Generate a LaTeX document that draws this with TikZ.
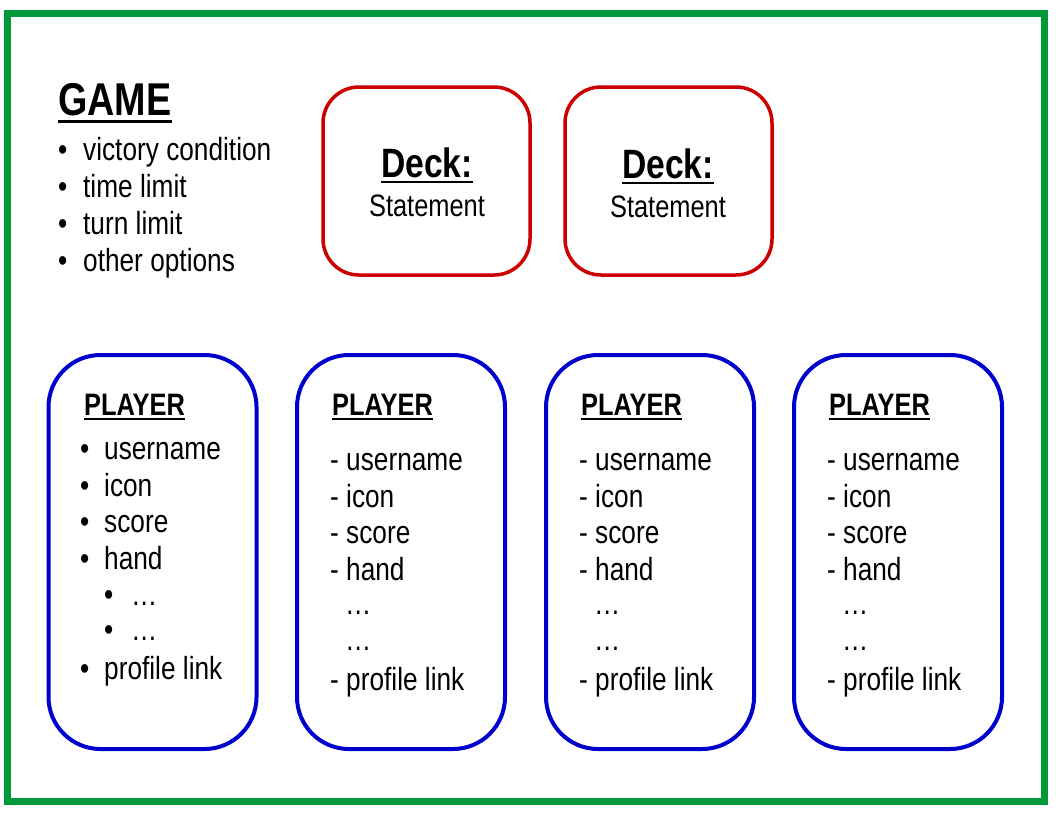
\documentclass[tikz,border=0pt]{standalone}
\usepackage{fontspec}
\setmainfont{Liberation Sans}[FakeStretch=0.82]
\definecolor{framegreen}{RGB}{0,153,57}
\definecolor{deckred}{RGB}{204,0,0}
\definecolor{playerblue}{RGB}{0,0,204}
\tikzset{
  txt/.style={inner sep=0pt, anchor=base west, font=\fontsize{32}{37}\selectfont},
  deckbox/.style={draw=deckred, line width=3.5pt, rounded corners=36pt, minimum width=207pt, minimum height=188pt},
  playerbox/.style={draw=playerblue, line width=4pt, rounded corners=52pt, minimum width=208pt, minimum height=394pt},
  uline/.style={line width=2.6pt}
}
\begin{document}
\begin{tikzpicture}[x=1pt,y=-1pt]
\useasboundingbox (0,0) rectangle (1056,816);
\fill[white] (0,0) rectangle (1056,816);
\draw[framegreen, line width=7pt] (7,13.5) rectangle (1044,801);

% game options
\node[txt, font=\fontsize{46}{51}\selectfont\bfseries] (game) at (58,115) {GAME};
\draw[uline, line width=3pt] ([yshift=-6pt]game.base west) -- ([yshift=-6pt]game.base east);
\node[txt] (victory) at (58,160) {\makebox[25pt][l]{•}victory condition};
\node[txt] (time) at (58,197) {\makebox[25pt][l]{•}time limit};
\node[txt] (turn) at (58,234) {\makebox[25pt][l]{•}turn limit};
\node[txt] (other) at (58,271) {\makebox[25pt][l]{•}other options};

% decks
\node[deckbox] (deckA) at (426.5,181) {};
\node[deckbox] (deckB) at (668.5,181) {};
\node[txt, anchor=base, font=\fontsize{41}{46}\selectfont\bfseries] (deckAtitle) at (427,177) {Deck:};
\draw[uline] ([yshift=-5pt]deckAtitle.base west) -- ([yshift=-5pt]deckAtitle.base east);
\node[txt, anchor=base, font=\fontsize{31}{36}\selectfont] (deckAtext) at (427,216) {Statement};
\node[txt, anchor=base, font=\fontsize{41}{46}\selectfont\bfseries] (deckBtitle) at (668,178) {Deck:};
\draw[uline] ([yshift=-5pt]deckBtitle.base west) -- ([yshift=-5pt]deckBtitle.base east);
\node[txt, anchor=base, font=\fontsize{31}{36}\selectfont] (deckBtext) at (668,217) {Statement};

% first player, bullet list
\node[playerbox] (playerA) at (152.5,552) {};
\node[txt, font=\fontsize{31}{36}\selectfont\bfseries] (titleA) at (84,415) {PLAYER};
\draw[uline] ([yshift=-4pt]titleA.base west) -- ([yshift=-4pt]titleA.base east);
\node[txt] (userA) at (80,459) {\makebox[24pt][l]{•}username};
\node[txt] (iconA) at (80,496) {\makebox[24pt][l]{•}icon};
\node[txt] (scoreA) at (80,532) {\makebox[24pt][l]{•}score};
\node[txt] (handA) at (80,569) {\makebox[24pt][l]{•}hand};
\node[txt] (cardAa) at (104,605) {\makebox[27pt][l]{•}…};
\node[txt] (cardAb) at (104,640) {\makebox[27pt][l]{•}…};
\node[txt] (linkA) at (80,679) {\makebox[24pt][l]{•}profile link};

% other players, dash list
\foreach \bx/\nm in {297/B,546/C,794/D}{
  \node[playerbox] (player\nm) at (\bx+104,552) {};
  \node[txt, font=\fontsize{31}{36}\selectfont\bfseries] (title\nm) at (\bx+35,415) {PLAYER};
  \draw[uline] ([yshift=-4pt]title\nm.base west) -- ([yshift=-4pt]title\nm.base east);
  \node[txt] (user\nm) at (\bx+33,470) {- username};
  \node[txt] (icon\nm) at (\bx+33,507) {- icon};
  \node[txt] (score\nm) at (\bx+33,543) {- score};
  \node[txt] (hand\nm) at (\bx+33,580) {- hand};
  \node[txt] (card\nm a) at (\bx+48,614) {…};
  \node[txt] (card\nm b) at (\bx+48,650) {…};
  \node[txt] (link\nm) at (\bx+33,690) {- profile link};
}
\end{tikzpicture}
\end{document}
